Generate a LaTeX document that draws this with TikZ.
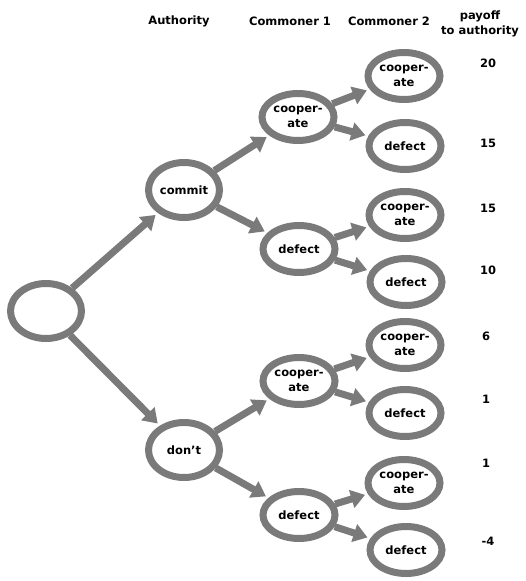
\documentclass[tikz,border=0pt]{standalone}
\usepackage{fontspec}
\setmainfont{DejaVu Sans}
\usetikzlibrary{shapes.geometric,arrows.meta}
\tikzset{
  ring/.style={ellipse, draw=black!52, line width=7pt, fill=white, inner sep=0pt,
    font=\bfseries\fontsize{11.5}{15}\selectfont, align=center},
  bignode/.style={ring, minimum width=71pt, minimum height=55pt},
  smallnode/.style={ring, minimum width=72pt, minimum height=47pt},
  move/.style={draw=black!52, line width=7pt, shorten >=3pt,
    -{Triangle[width=18pt,length=14pt]}},
  hdr/.style={font=\bfseries\fontsize{11.5}{15}\selectfont, align=center},
}
\begin{document}
\begin{tikzpicture}[x=1pt,y=-1pt]
\useasboundingbox (0,0) rectangle (526,581);
% headers
\node[hdr] (hA) at (179,21) {Authority};
\node[hdr] (hC1) at (290,21) {Commoner 1};
\node[hdr] (hC2) at (389,21) {Commoner 2};
\node[hdr] (hP) at (480,24) {payoff\\to authority};
% nodes
\node[bignode] (root) at (46,311) {};
\node[bignode] (commit) at (184,190) {commit};
\node[bignode] (dont) at (184,450) {don't};
\node[smallnode] (c1a) at (298,117) {cooper-\\ate};
\node[smallnode] (c1b) at (299,249) {defect};
\node[smallnode] (c1c) at (299,381) {cooper-\\ate};
\node[smallnode] (c1d) at (299,515) {defect};
\node[smallnode] (c2a) at (404,76) {cooper-\\ate};
\node[smallnode] (c2b) at (405,146) {defect};
\node[smallnode] (c2c) at (405,215) {cooper-\\ate};
\node[smallnode] (c2d) at (406,282) {defect};
\node[smallnode] (c2e) at (405,345) {cooper-\\ate};
\node[smallnode] (c2f) at (405,413) {defect};
\node[smallnode] (c2g) at (404,483) {cooper-\\ate};
\node[smallnode] (c2h) at (406,550) {defect};
% payoffs
\node[hdr] (p1) at (488,63) {20};
\node[hdr] (p2) at (488,143) {15};
\node[hdr] (p3) at (488,208) {15};
\node[hdr] (p4) at (488,270) {10};
\node[hdr] (p5) at (486,336) {6};
\node[hdr] (p6) at (486,399) {1};
\node[hdr] (p7) at (486,463) {1};
\node[hdr] (p8) at (488,541) {-4};
% moves
\draw[move] (root) -- (commit);
\draw[move] (root) -- (dont);
\draw[move] (commit) -- (c1a);
\draw[move] (commit) -- (c1b);
\draw[move] (dont) -- (c1c);
\draw[move] (dont) -- (c1d);
\draw[move] (c1a) -- (c2a);
\draw[move] (c1a) -- (c2b);
\draw[move] (c1b) -- (c2c);
\draw[move] (c1b) -- (c2d);
\draw[move] (c1c) -- (c2e);
\draw[move] (c1c) -- (c2f);
\draw[move] (c1d) -- (c2g);
\draw[move] (c1d) -- (c2h);
\end{tikzpicture}
\end{document}
